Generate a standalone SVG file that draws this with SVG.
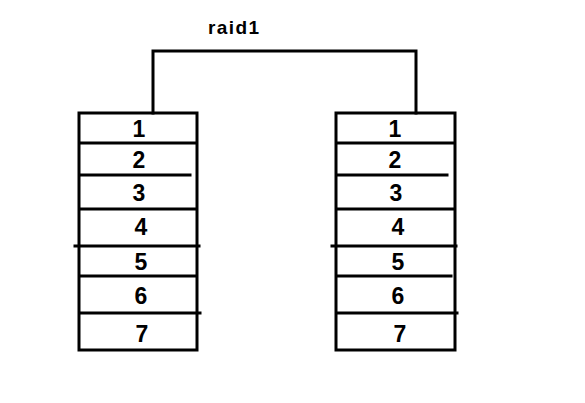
<svg xmlns="http://www.w3.org/2000/svg" width="585" height="403" viewBox="0 0 585 403">
<style>
.ln{stroke:#000;stroke-width:3;fill:none;stroke-linecap:square}
.d{font-family:"Liberation Sans",Arial,sans-serif;font-weight:bold;font-size:23px;fill:#000;text-anchor:middle;dominant-baseline:central}
.t{font-family:"Liberation Sans",Arial,sans-serif;font-weight:bold;font-size:19px;fill:#000}
</style>
<rect width="585" height="403" fill="#fff"/>
<text class="t" x="208" y="34" textLength="51">raid1</text>
<g id="connectors">
<polyline class="ln" points="153,113 153,51 416,51 416,113"/>
</g>
<g id="diskA">
<rect class="ln" x="79" y="113" width="118" height="237"/>
<line class="ln" x1="81" y1="143" x2="196" y2="143"/>
<line class="ln" x1="81" y1="175" x2="190" y2="175"/>
<line class="ln" x1="81" y1="209" x2="196" y2="209"/>
<line class="ln" x1="75" y1="246" x2="199" y2="246"/>
<line class="ln" x1="81" y1="276" x2="195" y2="276"/>
<line class="ln" x1="81" y1="313" x2="200" y2="313"/>
<text class="d" x="139" y="129">1</text>
<text class="d" x="139" y="160">2</text>
<text class="d" x="139" y="193">3</text>
<text class="d" x="141" y="227">4</text>
<text class="d" x="141" y="262">5</text>
<text class="d" x="141" y="296">6</text>
<text class="d" x="142" y="334">7</text>
</g>
<g id="diskB">
<rect class="ln" x="336" y="113" width="119" height="237"/>
<line class="ln" x1="338" y1="143" x2="454" y2="143"/>
<line class="ln" x1="338" y1="175" x2="447" y2="175"/>
<line class="ln" x1="338" y1="209" x2="454" y2="209"/>
<line class="ln" x1="332" y1="246" x2="456" y2="246"/>
<line class="ln" x1="338" y1="276" x2="451" y2="276"/>
<line class="ln" x1="338" y1="313" x2="457" y2="313"/>
<text class="d" x="395" y="129">1</text>
<text class="d" x="395" y="160">2</text>
<text class="d" x="396" y="193">3</text>
<text class="d" x="398" y="227">4</text>
<text class="d" x="398" y="262">5</text>
<text class="d" x="398" y="296">6</text>
<text class="d" x="400" y="334">7</text>
</g>
</svg>
